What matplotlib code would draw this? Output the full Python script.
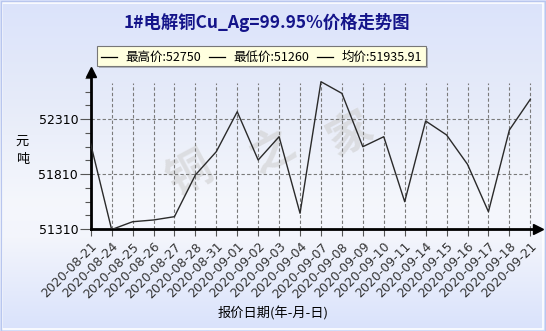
import matplotlib
matplotlib.use("Agg")
import matplotlib.pyplot as plt
import numpy as np
from matplotlib.patches import Rectangle, FancyBboxPatch
from matplotlib.colors import LinearSegmentedColormap

plt.rcParams['font.family'] = ['Noto Sans CJK SC', 'DejaVu Sans']

dates = ["2020-08-21", "2020-08-24", "2020-08-25", "2020-08-26", "2020-08-27",
         "2020-08-28", "2020-08-31", "2020-09-01", "2020-09-02", "2020-09-03",
         "2020-09-04", "2020-09-07", "2020-09-08", "2020-09-09", "2020-09-10",
         "2020-09-11", "2020-09-14", "2020-09-15", "2020-09-16", "2020-09-17",
         "2020-09-18", "2020-09-21"]
prices = [52083, 51305, 51376, 51392, 51422, 51801, 52013, 52376, 51937, 52149,
          51453, 52649, 52543, 52058, 52149, 51558, 52292, 52165, 51898, 51467,
          52210, 52489]
yticks = [51310, 51810, 52310]
legend_labels = ["最高价:52750", "最低价:51260", "均价:51935.91"]
title = "1#电解铜Cu_Ag=99.95%价格走势图"

W, H = 546, 331
fig = plt.figure(figsize=(W / 100, H / 100), dpi=100)

# background gradient
bg = fig.add_axes([0, 0, 1, 1], zorder=-10)
cmap = LinearSegmentedColormap.from_list(
    "bg", [(0.0, "#dbe3fb"), (0.3, "#e6ebf9"), (0.62, "#f5f7fc"), (0.72, "#f3f5fc"),
           (1.0, "#d9e2fb")])
grad = np.linspace(0, 1, 256).reshape(-1, 1)
bg.imshow(grad, aspect="auto", cmap=cmap, extent=[0, 1, 0, 1], origin="upper")
bg.set_xlim(0, 1)
bg.set_ylim(0, 1)
bg.axis("off")
bg.add_patch(Rectangle((2 / W, 2 / H), 1 - 5 / W, 1 - 5 / H, fill=False,
                       edgecolor="white", linewidth=1.2))
bg.add_patch(Rectangle((0.5 / W, 0.5 / H), 1 - 1.5 / W, 1 - 1.5 / H, fill=False,
                       edgecolor="#b8c6ee", linewidth=1.0))

# watermark
for wx, wy, ch in [(190, 175, "铜"), (272, 152, "之"), (350, 135, "家")]:
    fig.text(wx / W, 1 - wy / H, ch, fontsize=32, color="#d0d0d0", alpha=0.6,
             rotation=28, ha="center", va="center", fontweight="bold", zorder=-5)

# main axes
x0, x1 = 90.7, 538.0
ybot, ytop = 229.0, 72.0
ax = fig.add_axes([x0 / W, 1 - ybot / H, (x1 - x0) / W, (ybot - ytop) / H])
ax.patch.set_alpha(0)
step = (530.3 - 90.7) / 21
xmax = 21 + (x1 - 530.3) / step
ymin = 51310
ymax = 51310 + (ybot - ytop) * 500 / 55.0
ax.set_xlim(0, xmax)
ax.set_ylim(ymin, ymax)

xs = np.arange(len(dates))
# grid
grid_top = 51310 + (ybot - 83) * 500 / 55.0
ax.vlines(xs[1:], ymin, grid_top, colors="#7a7a7a", linestyles=(0, (3, 2)), linewidth=0.8)
ax.hlines(yticks[1:], 0, xs[-1], colors="#7a7a7a", linestyles=(0, (3, 2)), linewidth=0.8)

ax.plot(xs, prices, color="#2a2a2a", linewidth=1.0, zorder=3)

for s in ["top", "right"]:
    ax.spines[s].set_visible(False)
for s in ["left", "bottom"]:
    ax.spines[s].set_linewidth(2.0)
    ax.spines[s].set_color("black")

ax.set_xticks(xs)
ax.set_xticklabels(dates, rotation=45, ha="right", va="top", rotation_mode="anchor",
                   fontsize=9, color="#333333", family="DejaVu Sans")
ax.tick_params(axis="x", length=5, width=0.8, color="#555555", pad=3)
ax.set_yticks(yticks)
ax.set_yticklabels([str(v) for v in yticks], fontsize=9, family="DejaVu Sans")
ax.set_yticks(np.arange(51310 + 125, ymax, 125), minor=True)
ax.tick_params(axis="y", which="major", length=8, width=0.8, color="#555555", pad=1)
ax.tick_params(axis="y", which="minor", length=4, width=0.8, color="#555555")

# arrows
ax.plot([0], [ymax], marker="^", color="black", markersize=7, clip_on=False, zorder=5)
ax.plot([xmax], [ymin], marker=">", color="black", markersize=7, clip_on=False, zorder=5)

# title
fig.text(267 / W, 1 - 22 / H, title, fontsize=12.5, color="#14148a", fontweight="bold",
         ha="center", va="center")

# legend box
lb = FancyBboxPatch((97 / W, 1 - 66 / H), (426 - 97) / W, (66 - 46) / H,
                    boxstyle="square,pad=0", facecolor="#ffffdf", edgecolor="#777777",
                    linewidth=0.8, transform=fig.transFigure, zorder=2)
shadow = Rectangle((99 / W, 1 - 68 / H), (426 - 97) / W, (66 - 46) / H,
                   facecolor="#b0b4c0", edgecolor="none", transform=fig.transFigure,
                   zorder=1)
fig.patches.extend([shadow, lb])
yl = 1 - 57 / H
for sx, tx, lab in zip([101, 209, 317], [125, 233, 342], legend_labels):
    fig.lines.append(plt.Line2D([sx / W, (sx + 16) / W], [yl, yl], color="black",
                                linewidth=0.9, transform=fig.transFigure, zorder=3))
    fig.text(tx / W, yl, lab, fontsize=9, ha="left", va="center", zorder=4)

# axis labels
fig.text(22 / W, 1 - 141 / H, "元", fontsize=9.5, ha="center", va="center")
fig.text(23 / W, 1 - 160 / H, "吨", fontsize=9.5, ha="center", va="center")
fig.text(273 / W, 1 - 314 / H, "报价日期(年-月-日)", fontsize=9.5, ha="center", va="center")

fig.savefig("out.png", dpi=100)
